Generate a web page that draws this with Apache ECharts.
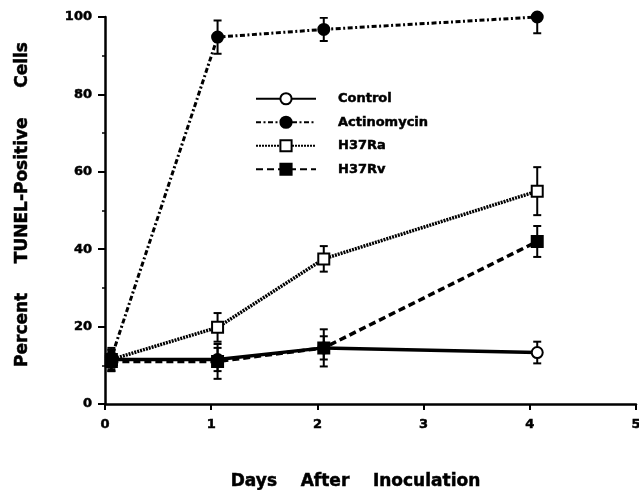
<!DOCTYPE html>
<html>
<head>
<meta charset="utf-8">
<script src="https://cdn.jsdelivr.net/npm/echarts@6/dist/echarts.min.js"></script>
<style>html,body{margin:0;padding:0;background:#fff;overflow:hidden}#c{width:639px;height:490px}</style>
</head>
<body>
<div id="c"></div>
<script>
var days = [0.06, 1.06, 2.06, 4.07];
var xTicks = [0, 1, 2, 3, 4, 5];
var yTicks = [0, 20, 40, 60, 80, 100];
var seriesNames = ['Control', 'Actinomycin', 'H37Ra', 'H37Rv'];
var controlVals = [11.5, 11.5, 14.5, 13.3];
var controlErr = [3, 3, 3, 2.8];
var actinoVals = [12, 94.8, 96.8, 100];
var actinoErr = [2, 4.3, 3, 4.2];
var ra37Vals = [11.5, 19.8, 37.5, 55];
var ra37Err = [2.5, 3.7, 3.3, 6.2];
var rv37Vals = [11, 11, 14.5, 42];
var rv37Err = [2.5, 4.5, 4.8, 4];

var chart = echarts.init(document.getElementById('c'));
var FONT = 'DejaVu Sans';
var heavy = { textBorderColor: '#000', textBorderWidth: 0.5 };

function pairs(vals) { return vals.map(function (v, i) { return [days[i], v]; }); }
function errData(vals, errs) { return vals.map(function (v, i) { return [days[i], v - errs[i], v + errs[i]]; }); }

function errSeries(vals, errs) {
  return {
    type: 'custom',
    data: errData(vals, errs),
    clip: true,
    silent: true,
    z: 1,
    renderItem: function (params, api) {
      var x = api.value(0);
      var lo = api.coord([x, api.value(1)]);
      var hi = api.coord([x, Math.min(api.value(2), 100)]);
      var w = 4;
      var st = { stroke: '#000', lineWidth: 2 };
      var children = [
        { type: 'line', shape: { x1: lo[0], y1: lo[1], x2: hi[0], y2: hi[1] }, style: st },
        { type: 'line', shape: { x1: lo[0] - w, y1: lo[1], x2: lo[0] + w, y2: lo[1] }, style: st }
      ];
      if (api.value(2) <= 100) {
        children.push({ type: 'line', shape: { x1: hi[0] - w, y1: hi[1], x2: hi[0] + w, y2: hi[1] }, style: st });
      }
      return { type: 'group', children: children };
    }
  };
}

function lineSeries(name, vals, type, width, symbol, filled) {
  return {
    name: name,
    type: 'line',
    data: pairs(vals),
    symbol: symbol,
    symbolSize: 11,
    showSymbol: true,
    z: 3,
    lineStyle: { color: '#000', width: width, type: type },
    itemStyle: { color: filled ? '#000' : '#fff', borderColor: '#000', borderWidth: 2 },
    emphasis: { disabled: true },
    animation: false
  };
}

function txt(size, extra) {
  return Object.assign({ fontFamily: FONT, fontWeight: 'bold', fontSize: size, color: '#000' }, heavy, extra || {});
}

chart.setOption({
  animation: false,
  backgroundColor: '#fff',
  grid: { left: 105, right: 3, top: 17, bottom: 86, containLabel: false, outerBoundsMode: 'none' },
  legend: {
    orient: 'vertical',
    left: 255,
    top: 92,
    padding: 0,
    itemWidth: 60,
    itemHeight: 14,
    itemGap: 10,
    data: seriesNames,
    textStyle: txt(13, { padding: [0, 0, 0, 17] })
  },
  xAxis: {
    type: 'value',
    min: 0, max: 5, interval: 1,
    name: 'Days    After    Inoculation',
    nameLocation: 'middle',
    nameGap: 69,
    nameTextStyle: txt(17, { padding: [0, 30, 0, 0] }),
    axisLine: { lineStyle: { color: '#000', width: 2.5 } },
    axisTick: { show: true, length: 6, lineStyle: { color: '#000', width: 2 } },
    axisLabel: Object.assign(txt(13), { margin: 14,
      formatter: function (v) { return xTicks.indexOf(v) >= 0 ? String(v) : ''; } }),
    splitLine: { show: false }
  },
  yAxis: {
    type: 'value',
    min: 0, max: 100, interval: 20,
    name: 'Percent     TUNEL-Positive     Cells',
    nameLocation: 'middle',
    nameRotate: 90,
    nameGap: 74,
    nameTextStyle: txt(17, { padding: [0, 0, 0, 12] }),
    axisLine: { show: true, lineStyle: { color: '#000', width: 2.5 } },
    axisTick: { show: true, length: 7, lineStyle: { color: '#000', width: 2 } },
    minorTick: { show: true, splitNumber: 2, length: 3, lineStyle: { color: '#000', width: 1.5 } },
    axisLabel: Object.assign(txt(13), { margin: 13,
      formatter: function (v) { return yTicks.indexOf(v) >= 0 ? String(v) : ''; } }),
    splitLine: { show: false }
  },
  series: [
    errSeries(controlVals, controlErr),
    errSeries(actinoVals, actinoErr),
    errSeries(ra37Vals, ra37Err),
    errSeries(rv37Vals, rv37Err),
    lineSeries('Control', controlVals, 'solid', 3.5, 'circle', false),
    lineSeries('Actinomycin', actinoVals, [5, 2.5, 2, 2.5], 3, 'circle', true),
    lineSeries('H37Ra', ra37Vals, [2, 1], 3.5, 'rect', false),
    lineSeries('H37Rv', rv37Vals, [7, 4], 3.5, 'rect', true)
  ]
});
</script>
</body>
</html>
